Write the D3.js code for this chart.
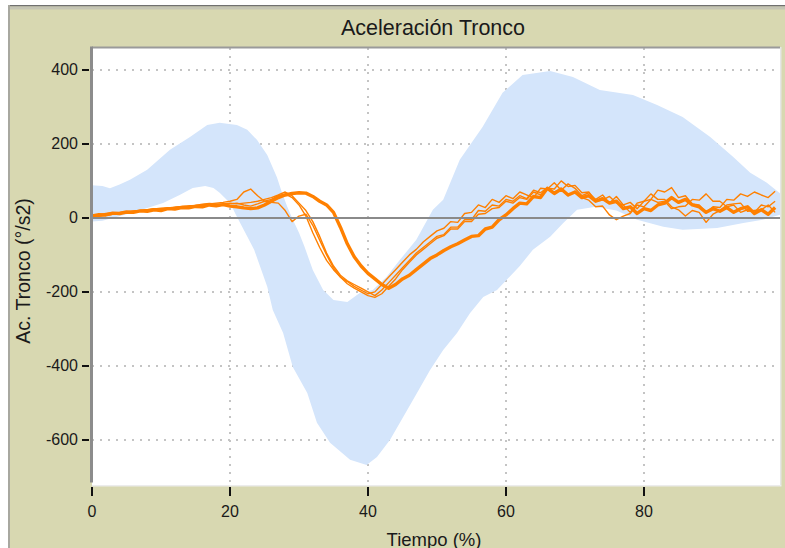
<!DOCTYPE html>
<html><head><meta charset="utf-8">
<script src="https://cdn.jsdelivr.net/npm/d3@7"></script>
<style>body{margin:0;background:#fff} svg{display:block}</style>
</head><body><svg id="c" width="785" height="548"></svg>
<script>
const chartTitle = "Aceleración Tronco";
const xLabel = "Tiempo (%)";
const yLabel = "Ac. Tronco (°/s2)";
const xTicks = [0, 20, 40, 60, 80];
const yTicks = [400, 200, 0, -200, -400, -600];

// normative band (upper / lower envelope), x in % of cycle
const upperX = [0, 1.5, 2.6, 4, 5.5, 8, 11.3, 14.2, 16.7, 18.5, 21, 22.5, 23.9, 25.4, 26.8, 27.5, 28.3, 29, 30, 30.8, 32, 33.5, 35, 37, 38.8, 40.7, 42.7, 44.6, 47, 49.4, 50.9, 53.3, 56.6, 59.5, 62.4, 66.4, 69.7, 73.6, 78.4, 81.9, 85.6, 89.6, 92.9, 95.4, 97.8, 100];
const upperY = [88, 86, 80, 90, 103, 130, 184, 219, 251, 257, 251, 238, 211, 170, 110, 70, 30, 0, -40, -78, -141, -195, -222, -227, -203, -195, -159, -114, -59, 22, 49, 157, 246, 338, 386, 397, 381, 346, 332, 305, 273, 219, 165, 122, 95, 62];
const lowerX = [0, 1.5, 3, 5, 8, 10.3, 12.7, 14.6, 16.4, 17.6, 18.5, 20, 21, 22.5, 23.5, 25.4, 26.2, 27.7, 29.1, 31.2, 32.6, 34.5, 37.4, 39.8, 41.3, 43.2, 45.1, 47.1, 49, 50.9, 52.9, 54.8, 56.7, 58.7, 62, 63.9, 66.4, 68.3, 70.3, 73, 76, 79, 82.8, 85.6, 90.6, 94.4, 97.2, 100];
const lowerY = [-10, -8, 0, 10, 27, 40, 62, 81, 86, 81, 68, 40, 3, -50, -86, -186, -249, -311, -403, -473, -554, -608, -654, -668, -646, -600, -538, -473, -411, -357, -311, -257, -214, -195, -130, -86, -51, -14, 22, 30, 20, -5, -24, -32, -27, -14, -5, 10];

// trials, one value per 1 % of the cycle (0..99)
const time = d3.range(0, 100);
const trialMain = [5, 9, 8, 13, 12, 16, 15, 19, 18, 22,
  20, 25, 24, 28, 27, 31, 30, 35, 33, 36,
  32, 30, 27, 25, 27, 35, 45, 55, 62, 66,
  68, 67, 58, 45, 35, 15, -25, -70, -105, -130,
  -150, -165, -180, -190, -180, -165, -155, -140, -125, -110,
  -100, -88, -78, -70, -60, -50, -48, -30, -25, -5,
  8, 25, 40, 38, 58, 55, 80, 66, 78, 62,
  70, 55, 60, 45, 52, 40, 45, 25, 30, 12,
  25, 20, 35, 40, 55, 42, 50, 35, 30, 15,
  25, 18, 28, 15, 25, 30, 12, 22, 10, 28];
const trialB = [2, 5, 8, 10, 12, 15, 18, 20, 22, 24, 25, 27, 28, 30, 32, 34, 36, 38, 40, 42, 45,
  50, 70, 78, 60, 45, 50, 60, 65, 55, 35,
  5, -40, -80, -115, -140, -160, -172, -185, -195, -205,
  -200, -180, -160, -140, -120, -100, -85, -65, -50, -35,
  -28, -10, -12, 12, 15, 35, 28, 50, 42, 60,
  52, 70, 62, 55, 80, 78, 95, 75, 92, 80,
  60, 68, 50, 62, 40, 58, 35, 42, 25, 45,
  50, 75, 70, 82, 55, 60, 38, 35, 15, 30,
  28, 50, 48, 65, 58, 70, 62, 55, 72];
const trialC = [0, 4, 7, 10, 13, 14, 16, 18, 21, 23, 25, 26, 28, 29, 31, 32, 33, 35, 36, 38, 40,
  38, 40, 42, 45, 50, 55, 62, 70, 60, 40,
  20, -10, -50, -95, -130, -155, -170, -180, -190, -200,
  -210, -195, -175, -155, -135, -115, -95, -80, -65, -50,
  -45, -25, -25, -5, -5, 20, 18, 35, 32, 50,
  45, 60, 52, 75, 68, 82, 70, 78, 60, 72,
  55, 48, 30, 32, 8, -5, 5, 12, 35, 30,
  50, 42, 45, 25, 30, 32, 50, 48, 65, 45,
  45, 30, 35, 15, 22, 15, 35, 30, 45];
const trialD = [6, 9, 12, 14, 15, 17, 19, 20, 22, 24, 26, 27, 29, 31, 32, 34, 37, 39, 38, 36, 38,
  40, 35, 32, 38, 45, 42, 40, 20, -10, 5,
  10, -20, -60, -100, -135, -160, -178, -190, -200, -210,
  -215, -205, -185, -165, -140, -120, -100, -85, -70, -55,
  -48, -30, -30, -10, -10, 10, 12, 25, 28, 45,
  40, 55, 50, 70, 62, 80, 78, 100, 85, 88,
  68, 70, 45, 48, 58, 40, 35, 15, 40, 45,
  65, 50, 50, 30, 22, 5, 20, 15, -12, 10,
  20, 35, 38, 40, 18, 20, 22, 35, 15];
const thinTrials = [trialB, trialC, trialD];

const W = 785, H = 548;
const P = {l: 92, r: 780, t: 48, b: 485};
const x = d3.scaleLinear().domain([0, 100]).range([92, 782]);
const y = d3.scaleLinear().domain([-722, 462]).range([485, 47]);
const FONT = "'Liberation Sans', Arial, sans-serif";
const ORANGE = "#ff8000";

const svg = d3.select("#c");
// background / frame
svg.append("rect").attr("width", W).attr("height", H).attr("fill", "#ffffff");
svg.append("rect").attr("x", 8).attr("y", 5).attr("width", W - 8).attr("height", H - 5).attr("fill", "#d8d8b1");
svg.append("rect").attr("x", 8).attr("y", 5).attr("width", W - 8).attr("height", 1.5).attr("fill", "#707070");
svg.append("rect").attr("x", 8).attr("y", 6.5).attr("width", W - 8).attr("height", 3).attr("fill", "#c4c4b4");
svg.append("rect").attr("x", 8).attr("y", 5).attr("width", 2).attr("height", H - 5).attr("fill", "#a8a8a0");

// plot area
svg.append("rect").attr("x", P.l).attr("y", P.t).attr("width", P.r - P.l).attr("height", P.b - P.t).attr("fill", "#ffffff");
svg.append("defs").append("clipPath").attr("id", "clip").append("rect")
  .attr("x", P.l).attr("y", P.t).attr("width", P.r - P.l).attr("height", P.b - P.t);
const plot = svg.append("g").attr("clip-path", "url(#clip)");

// dotted grid
plot.selectAll("line.gy").data(yTicks.filter(d => d !== 0)).join("line")
  .attr("x1", P.l).attr("x2", P.r).attr("y1", d => Math.round(y(d))).attr("y2", d => Math.round(y(d)))
  .attr("stroke", "#c4c4c4").attr("stroke-width", 2).attr("stroke-dasharray", "2,6");
plot.selectAll("line.gx").data(xTicks.filter(d => d !== 0)).join("line")
  .attr("y1", P.t).attr("y2", P.b).attr("x1", d => Math.round(x(d))).attr("x2", d => Math.round(x(d)))
  .attr("stroke", "#c4c4c4").attr("stroke-width", 2).attr("stroke-dasharray", "2,6");

// band
const bandPts = upperX.map((d, i) => [d, upperY[i]])
  .concat(lowerX.map((d, i) => [d, lowerY[i]]).reverse());
plot.append("path")
  .attr("d", d3.line().x(d => x(d[0])).y(d => y(d[1])).curve(d3.curveLinearClosed)(bandPts))
  .attr("fill", "#d4e5fb").attr("stroke", "none");

// trials
const line = d3.line().x((d, i) => x(time[i])).y(d => y(d));
thinTrials.forEach(s => {
  plot.append("path").attr("d", line(s)).attr("fill", "none")
    .attr("stroke", ORANGE).attr("stroke-width", 1.4).attr("stroke-linejoin", "round");
});
plot.append("path").attr("d", line(trialMain)).attr("fill", "none")
  .attr("stroke", ORANGE).attr("stroke-width", 3.4).attr("stroke-linejoin", "round");

// zero line
plot.append("line").attr("x1", P.l).attr("x2", P.r).attr("y1", y(0)).attr("y2", y(0))
  .attr("stroke", "#8a8a8a").attr("stroke-width", 2);

// borders
svg.append("rect").attr("x", P.l).attr("y", P.t - 1.5).attr("width", P.r - P.l).attr("height", 2).attr("fill", "#9a9a9a");
svg.append("rect").attr("x", P.r).attr("y", P.t - 1).attr("width", 1.5).attr("height", P.b - P.t + 1).attr("fill", "#e6e6e6");
svg.append("rect").attr("x", P.l).attr("y", P.b).attr("width", P.r - P.l + 1.5).attr("height", 1.5).attr("fill", "#ececec");
svg.append("rect").attr("x", 90).attr("y", P.t - 1.5).attr("width", 3).attr("height", P.b - P.t - 1).attr("fill", "#8c8c8c");

// y axis ticks + labels
const yAx = svg.append("g");
yAx.selectAll("line").data(yTicks).join("line")
  .attr("x1", 82).attr("x2", 89).attr("y1", d => Math.round(y(d))).attr("y2", d => Math.round(y(d)))
  .attr("stroke", "#111").attr("stroke-width", 2);
yAx.selectAll("text").data(yTicks).join("text")
  .attr("x", 78).attr("y", d => y(d)).attr("text-anchor", "end").attr("dominant-baseline", "central")
  .attr("font-family", FONT).attr("font-size", 16).attr("fill", "#1a1a1a").text(d => d);

// x axis ticks + labels
const xAx = svg.append("g");
xAx.selectAll("line").data(xTicks).join("line")
  .attr("x1", d => Math.round(x(d))).attr("x2", d => Math.round(x(d))).attr("y1", 487).attr("y2", 496)
  .attr("stroke", "#111").attr("stroke-width", 2);
xAx.selectAll("text").data(xTicks).join("text")
  .attr("x", d => x(d)).attr("y", 511).attr("text-anchor", "middle").attr("dominant-baseline", "central")
  .attr("font-family", FONT).attr("font-size", 16).attr("fill", "#1a1a1a").text(d => d);

// titles
svg.append("text").attr("x", 433).attr("y", 28).attr("text-anchor", "middle").attr("dominant-baseline", "central")
  .attr("font-family", FONT).attr("font-size", 21.5).attr("fill", "#1a1a1a").text(chartTitle);
svg.append("text").attr("x", 434).attr("y", 539).attr("text-anchor", "middle").attr("dominant-baseline", "central")
  .attr("font-family", FONT).attr("font-size", 18.5).attr("fill", "#1a1a1a").text(xLabel);
svg.append("text").attr("transform", "translate(23,271) rotate(-90)").attr("text-anchor", "middle").attr("dominant-baseline", "central")
  .attr("font-family", FONT).attr("font-size", 19.5).attr("fill", "#1a1a1a").text(yLabel);
</script>
</body></html>
